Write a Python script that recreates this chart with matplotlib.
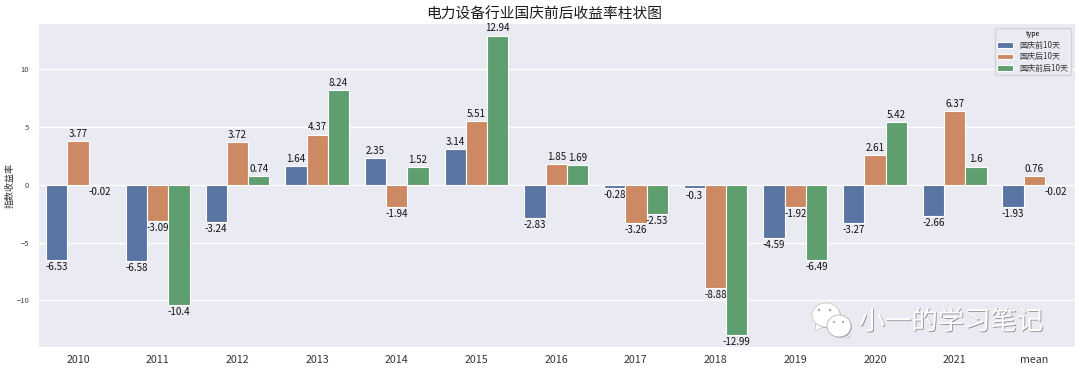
#!/usr/bin/env python3
import matplotlib

matplotlib.use("Agg")
import matplotlib.patheffects as pe
import matplotlib.pyplot as plt
import numpy as np
from matplotlib.patches import Ellipse, Polygon

plt.rcParams["font.family"] = ["Noto Sans CJK SC", "DejaVu Sans"]
plt.rcParams["axes.unicode_minus"] = False

categories = ["2010", "2011", "2012", "2013", "2014", "2015", "2016",
              "2017", "2018", "2019", "2020", "2021", "mean"]
before_10d = [-6.53, -6.58, -3.24, 1.64, 2.35, 3.14, -2.83, -0.28, -0.3, -4.59, -3.27, -2.66, -1.93]
after_10d = [3.77, -3.09, 3.72, 4.37, -1.94, 5.51, 1.85, -3.26, -8.88, -1.92, 2.61, 6.37, 0.76]
around_10d = [-0.02, -10.4, 0.74, 8.24, 1.52, 12.94, 1.69, -2.53, -12.99, -6.49, 5.42, 1.6, -0.02]
series_names = ["国庆前10天", "国庆后10天", "国庆前后10天"]
series_colors = ["#5875a4", "#cc8963", "#5f9e6e"]
y_ticks = [-10, -5, 0, 5, 10]

fig = plt.figure(figsize=(10.8, 3.7), dpi=100)
ax = fig.add_axes([39 / 1080, 1 - 347 / 370, 1036 / 1080, 323 / 370])
ax.set_facecolor("#eaeaf2")
ax.set_axisbelow(True)
ax.grid(True, axis="y", color="white", linewidth=1)
for spine in ax.spines.values():
    spine.set_visible(False)

x = np.arange(len(categories))
width = 0.8 / 3
all_series = [before_10d, after_10d, around_10d]
for i, values in enumerate(all_series):
    bars = ax.bar(x + (i - 1) * width, values, width, color=series_colors[i],
                  edgecolor="white", linewidth=0.8, label=series_names[i])
    for bar, value in zip(bars, values):
        ax.annotate(f"{value:g}", (bar.get_x() + bar.get_width() / 2, value),
                    xytext=(0, 1.5 if value >= 0 else -1.5), textcoords="offset points",
                    ha="center", va="bottom" if value >= 0 else "top",
                    fontsize=7, color="#111111")

ax.set_xlim(-0.49, len(categories) - 0.49)
ax.set_ylim(-14.03, 13.94)
ax.set_xticks(x, categories, fontsize=7.7, color="#333333")
ax.set_yticks(y_ticks, [str(t).replace("-", "\u2212") for t in y_ticks], fontsize=5.5, color="#444444")
ax.tick_params(axis="y", length=0, pad=7)
ax.tick_params(axis="x", length=0, pad=6)
ax.set_ylabel("指数收益率", fontsize=6.5, color="#333333", labelpad=1)
ax.set_title("电力设备行业国庆前后收益率柱状图", fontsize=10.6, color="#1a1a1a", pad=3.5,
             x=(544 - 39) / 1036)

legend = ax.legend(title="type", loc="upper right", bbox_to_anchor=(1 - 4 / 1036, 1 - 4 / 323),
                   borderaxespad=0, fontsize=5.8, title_fontsize=5,
                   facecolor="#eaeaf2", edgecolor="#cccccc", framealpha=0.8,
                   labelcolor="#333333", handlelength=2.0, labelspacing=0.3,
                   borderpad=0.3)

# watermark, placed in pixel coordinates
overlay = fig.add_axes([0, 0, 1, 1], facecolor="none")
overlay.set_xlim(0, 1080)
overlay.set_ylim(370, 0)
overlay.axis("off")
shadow = [pe.withSimplePatchShadow(offset=(0.6, -0.6), shadow_rgbFace="#888888", alpha=0.7)]
overlay.add_patch(Polygon([[816, 321], [815, 331], [826, 326]], fc="white", ec="#c4c4c4", lw=0.5))
overlay.add_patch(Ellipse((826, 315), 28, 24, fc="white", ec="#c4c4c4", lw=0.5, path_effects=shadow))
overlay.add_patch(Polygon([[844, 332], [850, 338], [838, 335]], fc="white", ec="#c4c4c4", lw=0.5))
overlay.add_patch(Ellipse((839, 326), 24, 22, fc="white", ec="#b5b5b5", lw=0.6, path_effects=shadow))
for cx, cy, dot in [(819, 310, 2.5), (830, 310, 2.5), (834, 322, 2.2), (843, 322, 2.2)]:
    overlay.add_patch(Ellipse((cx, cy), dot, dot, fc="#aaaaaa", ec="none"))
overlay.text(951, 322, "小一的学习笔记", fontsize=19, color="white", ha="center", va="center",
             path_effects=[pe.withSimplePatchShadow(offset=(0.6, -0.6), shadow_rgbFace="#777777", alpha=0.8)])

fig.savefig("out.png", dpi=100)
